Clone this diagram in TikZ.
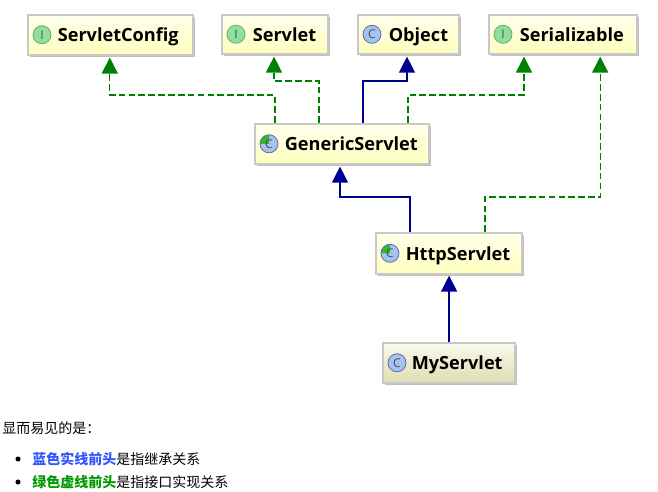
\documentclass[tikz,border=0pt]{standalone}
\usepackage{fontspec}
\setmainfont{Open Sans}
\newfontfamily\cjk{Noto Sans CJK SC}
\usetikzlibrary{arrows.meta,calc,shadows}
\definecolor{depgreen}{HTML}{008000}
\definecolor{extblue}{HTML}{000090}
\definecolor{noteblue}{HTML}{3355FF}
\definecolor{notegreen}{HTML}{009900}
\definecolor{boxedge}{HTML}{C8C8C8}
\definecolor{ytop}{HTML}{FFFFEC}
\definecolor{ybot}{HTML}{FFFFBE}
\definecolor{ktop}{HTML}{FAFAEC}
\definecolor{kbot}{HTML}{DEDDB2}
\definecolor{ifill}{HTML}{8FE0A0}
\definecolor{cfill}{HTML}{A4C4F0}
\newlength{\pxpad}
\newcommand{\classbox}[9]{%
  \pxpad=0.75pt \pxpad=#6\pxpad
  \node[classnode,#8,minimum width=#4*0.75pt,minimum height=#5*0.75pt,text width=#4*0.75pt,anchor=north west] (#1) at (#2,#3) {\hspace*{\pxpad}\rule[-3.5pt]{0pt}{17.5pt}#7};
  \node[#9] (#1icon) at ($(#1.west)+(15,0)$) {};
}
\tikzset{
  classnode/.style={draw=boxedge,line width=1.2pt,inner xsep=0pt,inner ysep=0pt,align=left,
    font=\bfseries\fontsize{13.6}{15}\selectfont,text=black,
    drop shadow={shadow xshift=1.5pt,shadow yshift=-1.5pt,fill=black!35,opacity=.7}},
  yellowfill/.style={top color=ytop,bottom color=ybot},
  khakifill/.style={top color=ktop,bottom color=kbot},
  iconbase/.style={circle,minimum size=13.5pt,inner sep=0pt,line width=.6pt},
  ifaceicon/.style={iconbase,draw=green!45!black!60,fill=ifill,
    label={[text=black!70,font=\fontsize{9}{9}\selectfont]center:I}},
  classicon/.style={iconbase,draw=blue!50!black!60,fill=cfill,
    label={[text=black!70,font=\fontsize{9}{9}\selectfont]center:C}},
  abstracticon/.style={iconbase,draw=blue!50!black!60,fill=cfill,
    path picture={\fill[green!65!black!80] (path picture bounding box.center) -- (path picture bounding box.north) arc[start angle=90,end angle=180,radius=6.75pt] -- cycle;},
    label={[text=black!70,font=\fontsize{9}{9}\selectfont]center:C}},
  ext/.style={draw=extblue,line width=1pt,-{Triangle[width=12pt,length=12pt,fill=extblue]}},
  dep/.style={draw=depgreen,line width=1pt,dash pattern=on 5pt off 2.4pt,-{Triangle[width=12pt,length=12pt,fill=depgreen]}},
  note/.style={font=\cjk\fontsize{10.5}{12}\selectfont,anchor=west,inner sep=0pt,text=black},
  bulletdot/.style={circle,fill=black,minimum size=3.8pt,inner sep=0pt}
}
\begin{document}
\begin{tikzpicture}[x=0.75pt,y=-0.75pt]
\useasboundingbox (0,0) rectangle (658,492);
\fill[white] (0,0) rectangle (658,492);
\classbox{sc}{27}{14}{165}{40}{30}{ServletConfig}{yellowfill}{ifaceicon}
\classbox{sv}{221}{14}{106}{39}{31}{Servlet}{yellowfill}{ifaceicon}
\classbox{ob}{357}{14}{101}{39}{31}{Object}{yellowfill}{classicon}
\classbox{se}{488}{14}{148}{39}{31}{Serializable}{yellowfill}{ifaceicon}
\classbox{gs}{254}{123}{174}{40}{30}{GenericServlet}{yellowfill}{abstracticon}
\classbox{hs}{375}{232}{146}{41}{30}{HttpServlet}{yellowfill}{abstracticon}
\classbox{ms}{382}{342}{132}{40}{29}{MyServlet}{khakifill}{classicon}
\draw[dep] ($(gs.north west)+(21,0)$) -- ++(0,-28) -| ($(sc.south west)+(82.8,2)$);
\draw[dep] ($(gs.north west)+(65,0)$) -- ++(0,-42) -| ($(sv.south west)+(53,2)$);
\draw[ext] ($(gs.north west)+(109,0)$) -- ++(0,-42) -| ($(ob.south west)+(50,2)$);
\draw[dep] ($(gs.north west)+(154,0)$) -- ++(0,-28) -| ($(se.south west)+(36,2)$);
\draw[dep] ($(hs.north west)+(110,0)$) -- ++(0,-35) -| ($(se.south west)+(112.2,2)$);
\draw[ext] ($(hs.north west)+(35,0)$) -- ++(0,-35) -| ($(gs.south west)+(86,2)$);
\draw[ext] ($(ms.north)+(0.3,0)$) -- ($(hs.south)+(0.3,1)$);
\node[note] (intro) at (2,428) {显而易见的是：};
\node[bulletdot] (b1) at (18,459) {};
\node[note] (t1) at (32,459) {{\color{noteblue}\bfseries 蓝色实线前头}是指继承关系};
\node[bulletdot] (b2) at (18,482) {};
\node[note] (t2) at (32,482) {{\color{notegreen}\bfseries 绿色虚线前头}是指接口实现关系};
\end{tikzpicture}
\end{document}
